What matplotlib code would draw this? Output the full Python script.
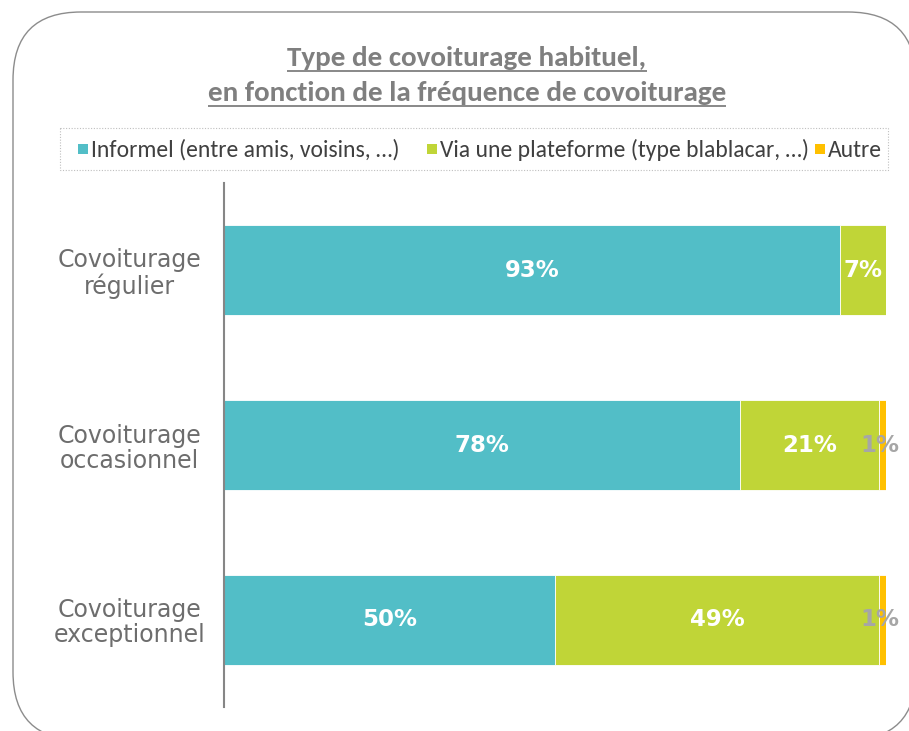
import matplotlib.pyplot as plt
from matplotlib.patches import FancyBboxPatch, Rectangle
import numpy as np

categories = ['Covoiturage\nrégulier', 'Covoiturage\noccasionnel', 'Covoiturage\nexceptionnel']
informel = [93, 78, 50]
plateforme = [7, 21, 49]
autre = [0, 1, 1]
series_names = ['Informel (entre amis, voisins, …)',
                'Via une plateforme (type blablacar, …)',
                'Autre']
colors = ['#52BEC7', '#C0D537', '#FFC000']

narrow = ['Carlito', 'DejaVu Sans']
W, H = 909, 731

fig = plt.figure(figsize=(W / 100, H / 100), dpi=100)

# background layer in pixel units: rounded frame, title, legend
bg = fig.add_axes([0, 0, 1, 1], zorder=0)
bg.set_xlim(0, W)
bg.set_ylim(H, 0)
bg.axis('off')

frame = FancyBboxPatch((13, 12), 903, 728, boxstyle='round,pad=0,rounding_size=68',
                       fc='white', ec='#8c8c8c', lw=1.0)
bg.add_patch(frame)

title_gray = '#7f7f7f'
titles = [('Type de covoiturage habituel,', 66), ('en fonction de la fréquence de covoiturage', 101)]
title_texts = []
for s, yb in titles:
    t = bg.text(467, yb, s, ha='center', va='baseline', fontsize=21, fontweight='bold',
                color=title_gray, family=narrow)
    title_texts.append((t, yb))

# legend box (dotted) with colour squares
bg.add_patch(Rectangle((60, 128), 828, 42, fill=False, ec='#bfbfbf', lw=0.8, ls=(0, (1, 1.5))))
leg_items = [(78, series_names[0]), (427, series_names[1]), (815, series_names[2])]
for (x, name), c in zip(leg_items, colors):
    bg.add_patch(Rectangle((x, 144), 10, 10, fc=c, ec='none'))
    bg.text(x + 13, 157, name, ha='left', va='baseline', fontsize=17, color='#404040',
            family=narrow)

# main bar chart
ax = fig.add_axes([224 / W, 1 - 707 / H, 662 / W, 524 / H], zorder=1)
ax.patch.set_alpha(0)
y = np.arange(len(categories))
h = 90 / 175
left = np.zeros(len(categories))
for vals, c in zip([informel, plateforme, autre], colors):
    vals = np.array(vals, dtype=float)
    ax.barh(y, vals, left=left, height=h, color=c, edgecolor='white', linewidth=0.6)
    for yi, (l, v) in enumerate(zip(left, vals)):
        if v <= 0:
            continue
        if v >= 5:
            ax.text(l + v / 2, yi, f'{v:.0f}%', ha='center', va='center', color='white',
                    fontsize=16.5, fontweight='bold')
        else:
            ax.text(l + v / 2 - 0.5, yi, f'{v:.0f}%', ha='center', va='center', color='#a6a6a6',
                    fontsize=16.5, fontweight='bold')
    left += vals

ax.set_xlim(0, 100)
ax.set_ylim(len(categories) - 0.5, -0.5)
for s in ['top', 'right', 'bottom']:
    ax.spines[s].set_visible(False)
ax.spines['left'].set_color('#868686')
ax.spines['left'].set_linewidth(1.5)
ax.set_xticks([])
ax.set_yticks(y)
ax.set_yticklabels(categories, fontsize=17, color='#6d6d6d', ha='center', linespacing=1.07)
ax.tick_params(axis='y', length=0, pad=68)

# underline the two title lines
fig.canvas.draw()
inv = bg.transData.inverted()
for t, yb in title_texts:
    bb = t.get_window_extent()
    x0, _ = inv.transform((bb.x0, bb.y0))
    x1, _ = inv.transform((bb.x1, bb.y0))
    bg.plot([x0, x1], [yb + 5, yb + 5], color=title_gray, lw=1.3, solid_capstyle='butt')

fig.savefig('out.png', dpi=100)
